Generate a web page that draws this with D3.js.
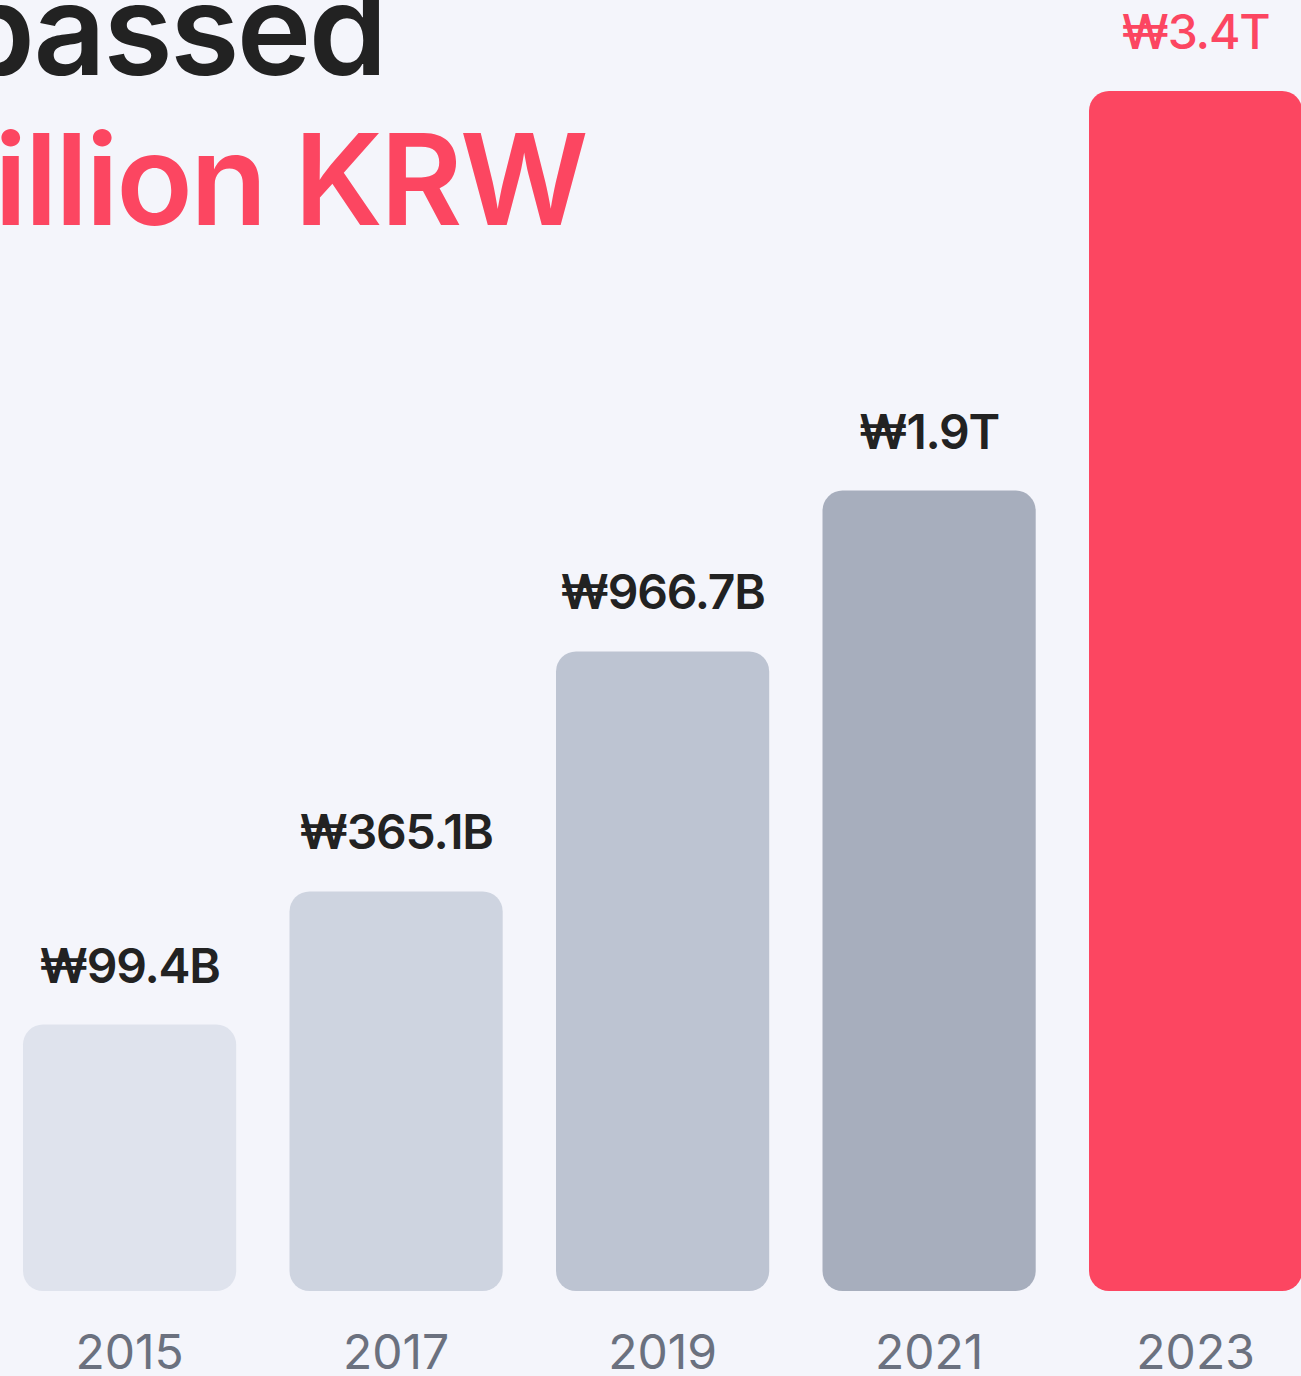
<!DOCTYPE html>
<html>
<head>
<meta charset="utf-8">
<style>
body {
  margin: 0;
  background-color: #f4f5fb;
  overflow: hidden;
}
text {
  font-family: Inter, "Noto Sans", sans-serif;
}
.title-dark { fill: #222222; font-size: 126px; font-weight: 600; letter-spacing: -2.5px; }
.title-red { fill: #fc4661; font-size: 126px; font-weight: 600; letter-spacing: -2.5px; }
.val { font-size: 48px; font-weight: 600; fill: #222222; letter-spacing: -1.2px; }
.year { font-size: 48px; fill: #6b717f; }
</style>
<script src="https://d3js.org/d3.v7.min.js"></script>
</head>
<body>
<script>

var years = ["2015", "2017", "2019", "2021", "2023"];
var valueLabels = ["₩99.4B", "₩365.1B", "₩966.7B", "₩1.9T", "₩3.4T"];
// bar heights as share of the tallest bar (%)
var barShare = [22.2, 33.3, 53.3, 66.7, 100];
var barColors = ["#dfe3ed", "#ced4e0", "#bdc4d2", "#a7aebd", "#fc4661"];
var titleLines = ["passed", "illion KRW"];

var width = 1301, height = 1376;

var svg = d3.select("body").append("svg")
  .attr("width", width)
  .attr("height", height);

var x = d3.scaleBand()
  .domain(years)
  .range([-3.65, 1328.85])
  .paddingInner(0.2)
  .paddingOuter(0.1);

var y = d3.scaleLinear()
  .domain([0, 100])
  .range([1291, 91]);

// title (cut at left edge)
svg.append("text")
  .attr("class", "title-dark")
  .attr("text-anchor", "end")
  .attr("x", 385)
  .attr("y", 75)
  .text(titleLines[0]);

svg.append("text")
  .attr("class", "title-red")
  .attr("text-anchor", "end")
  .attr("x", 586)
  .attr("y", 225)
  .text(titleLines[1]);

var g = svg.selectAll(".bar")
  .data(years)
  .enter()
  .append("g")
  .attr("class", "bar");

g.append("rect")
  .attr("x", function(d) { return x(d); })
  .attr("y", function(d, i) { return y(barShare[i]); })
  .attr("width", x.bandwidth())
  .attr("height", function(d, i) { return y(0) - y(barShare[i]); })
  .attr("rx", 20)
  .attr("fill", function(d, i) { return barColors[i]; });

g.append("text")
  .attr("class", "val")
  .attr("text-anchor", "middle")
  .attr("x", function(d) { return x(d) + x.bandwidth() / 2; })
  .attr("y", function(d, i) { return y(barShare[i]) - 42; })
  .style("fill", function(d, i) { return i == 4 ? "#fc4661" : null; })
  .style("font-weight", function(d, i) { return i == 4 ? 500 : null; })
  .text(function(d, i) { return valueLabels[i]; });

g.append("text")
  .attr("class", "year")
  .attr("text-anchor", "middle")
  .attr("x", function(d) { return x(d) + x.bandwidth() / 2; })
  .attr("y", 1369)
  .text(function(d) { return d; });

</script>
</body>
</html>
